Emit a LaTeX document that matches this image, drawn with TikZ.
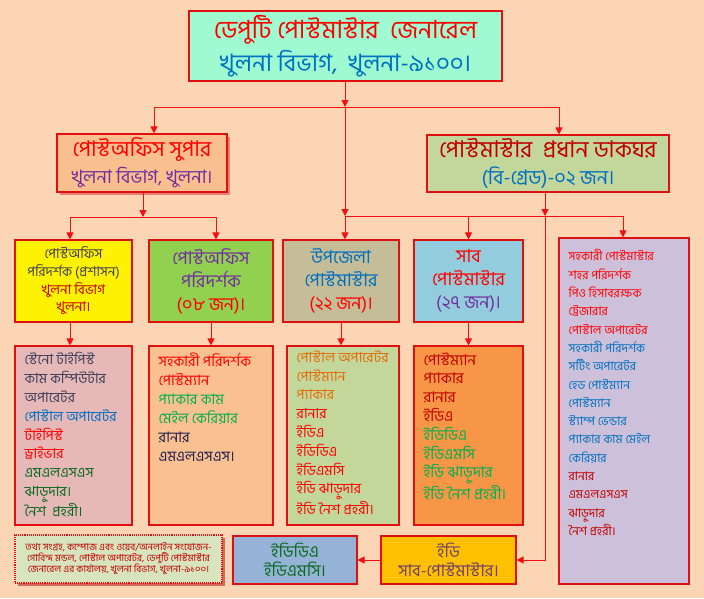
\documentclass[tikz,border=0pt]{standalone}
\usepackage{fontspec}
\newfontfamily\bn[Script=Bengali]{Hind Siliguri}
\usetikzlibrary{arrows.meta,shadows}

\definecolor{bgpeach}{HTML}{FCD5B5}
\definecolor{boxred}{HTML}{E01010}
\definecolor{linkred}{HTML}{F01010}
\definecolor{topfill}{HTML}{9FFAD2}
\definecolor{superfill}{HTML}{FABF8F}
\definecolor{pmfill}{HTML}{C3D69B}
\definecolor{inspfill}{HTML}{92D050}
\definecolor{upzfill}{HTML}{C4BD97}
\definecolor{subfill}{HTML}{93CDDD}
\definecolor{stafffill}{HTML}{CCC0DA}
\definecolor{pinkfill}{HTML}{E6B9B8}
\definecolor{orfill}{HTML}{FAC090}
\definecolor{upzlfill}{HTML}{C4D79B}
\definecolor{sublfill}{HTML}{F79646}
\definecolor{srcfill}{HTML}{D7E4BD}
\definecolor{eddafill}{HTML}{95B3D7}
\definecolor{edsubfill}{HTML}{FFC000}
\definecolor{tred}{HTML}{FF0000}
\definecolor{tdred}{HTML}{C00000}
\definecolor{tblue}{HTML}{0070C0}
\definecolor{tpurple}{HTML}{7030A0}
\definecolor{tgreen}{HTML}{00B050}
\definecolor{tdgreen}{HTML}{0B6A1E}
\definecolor{tgray}{HTML}{3F3F5A}
\definecolor{tnavy}{HTML}{1F1F50}
\definecolor{tbrown}{HTML}{E46C0A}
\definecolor{tmauve}{HTML}{6F3F70}

\tikzset{
  box/.style={draw=boxred, line width=1.1pt, inner sep=0pt, align=center},
  link/.style={draw=linkred, line width=1pt, -{Triangle[length=7pt,width=7pt]}},
  plain/.style={draw=linkred, line width=1pt},
  listtxt/.style={anchor=north west, align=left, inner sep=0pt,
    font=\bn\fontsize{14}{18.8}\selectfont},
}

\begin{document}
\begin{tikzpicture}[x=1pt,y=-1pt]
  \fill[bgpeach] (0,0) rectangle (704,598);
  \useasboundingbox (0,0) rectangle (704,598);

  % top office
  \node[box, fill=topfill, minimum width=313pt, minimum height=70pt,
    font=\bn\fontsize{25}{33}\selectfont] (dpg) at (345.5,46)
    {\textcolor{tred}{ডেপুটি পোস্টমাস্টার\ \ জেনারেল}\\
     \textcolor{tblue}{\fontsize{24}{33}\selectfont খুলনা বিভাগ,\ \ খুলনা-৯১০০।}};

  % second level
  \node[box, fill=superfill, minimum width=170pt, minimum height=58pt,
    drop shadow={shadow xshift=2.5pt, shadow yshift=-2.5pt, fill=tdred!80},
    font=\bn\fontsize{21.5}{27}\selectfont] (super) at (142,163)
    {\textcolor{tred}{পোস্টঅফিস সুপার}\\
     \textcolor{tpurple}{\fontsize{18.5}{27}\selectfont খুলনা বিভাগ, খুলনা।}};
  \node[box, fill=pmfill, minimum width=242pt, minimum height=57pt,
    font=\bn\fontsize{23}{27}\selectfont] (pmho) at (548,163.5)
    {\textcolor{tdred}{পোস্টমাস্টার\ \ প্রধান ডাকঘর}\\
     \textcolor{tblue}{\fontsize{20}{27}\selectfont (বি-গ্রেড)-০২ জন।}};

  % third level
  \node[box, fill=yellow, minimum width=117pt, minimum height=82pt,
    font=\bn\fontsize{13.5}{17.7}\selectfont] (padm) at (73.5,281)
    {\textcolor{tgray}{পোস্টঅফিস}\\ \textcolor{tgray}{পরিদর্শক (প্রশাসন)}\\
     \textcolor{tdred}{খুলনা বিভাগ}\\ \textcolor{tdred}{খুলনা।}};
  \node[box, fill=inspfill, minimum width=124pt, minimum height=82pt,
    font=\bn\fontsize{18}{23}\selectfont] (insp) at (211,281)
    {\textcolor{tpurple}{পোস্টঅফিস}\\ \textcolor{tpurple}{পরিদর্শক}\\
     \textcolor{tred}{(০৮ জন)।}};
  \node[box, fill=upzfill, minimum width=116pt, minimum height=82pt,
    font=\bn\fontsize{18}{23}\selectfont] (upz) at (341,281)
    {\textcolor{tblue}{উপজেলা}\\ \textcolor{tblue}{পোস্টমাস্টার}\\
     \textcolor{tred}{(২২ জন)।}};
  \node[box, fill=subfill, minimum width=109pt, minimum height=82pt,
    font=\bn\fontsize{18}{23}\selectfont] (subpm) at (468.5,281)
    {\textcolor{tred}{সাব}\\ \textcolor{tred}{পোস্টমাস্টার}\\
     \textcolor{tpurple}{(২৭ জন)।}};
  \node[box, fill=stafffill, minimum width=130pt, minimum height=346pt] (staff) at (624,411) {};
  \node[listtxt, font=\bn\fontsize{12}{18.3}\selectfont] at ([shift={(10,12)}]staff.north west)
    {\textcolor{tred}{সহকারী পোস্টমাস্টার}\\ \textcolor{tred}{শহর পরিদর্শক}\\
     \textcolor{tred}{পিও হিসাবরক্ষক}\\ \textcolor{tred}{ট্রেজারার}\\
     \textcolor{tred}{পোস্টাল অপারেটর}\\ \textcolor{tblue}{সহকারী পরিদর্শক}\\
     \textcolor{tblue}{সর্টিং অপারেটর}\\ \textcolor{tblue}{হেড পোস্টম্যান}\\
     \textcolor{tblue}{পোস্টম্যান}\\ \textcolor{tblue}{স্ট্যাম্প ভেন্ডার}\\
     \textcolor{tblue}{প্যাকার কাম মেইল}\\ \textcolor{tblue}{কেরিয়ার}\\
     \textcolor{tdred}{রানার}\\ \textcolor{tdred}{এমএলএসএস}\\
     \textcolor{tdred}{ঝাড়ুদার}\\ \textcolor{tdred}{নৈশ প্রহরী।}};

  % staff lists
  \node[box, fill=pinkfill, minimum width=117pt, minimum height=179pt] (pink) at (73.5,435.5) {};
  \node[listtxt] at ([shift={(10,7)}]pink.north west)
    {\textcolor{tgray}{স্টেনো টাইপিস্ট}\\ \textcolor{tgray}{কাম কম্পিউটার}\\
     \textcolor{tgray}{অপারেটর}\\ \textcolor{tblue}{পোস্টাল অপারেটর}\\
     \textcolor{tred}{টাইপিস্ট}\\ \textcolor{tred}{ড্রাইভার}\\
     \textcolor{tdgreen}{এমএলএসএস}\\ \textcolor{tdgreen}{ঝাড়ুদার।}\\
     \textcolor{tdgreen}{নৈশ\ \ প্রহরী।}};
  \node[box, fill=orfill, minimum width=124pt, minimum height=179pt] (orl) at (211,435.5) {};
  \node[listtxt, font=\bn\fontsize{14.5}{19}\selectfont] at ([shift={(10,7)}]orl.north west)
    {\textcolor{tred}{সহকারী পরিদর্শক}\\ \textcolor{tred}{পোস্টম্যান}\\
     \textcolor{tgreen}{প্যাকার কাম}\\ \textcolor{tgreen}{মেইল কেরিয়ার}\\
     \textcolor{tnavy}{রানার}\\ \textcolor{tnavy}{এমএলএসএস।}};
  \node[box, fill=upzlfill, minimum width=112pt, minimum height=179pt] (upzl) at (343,435.5) {};
  \node[listtxt] at ([shift={(10,5)}]upzl.north west)
    {\textcolor{tbrown}{পোস্টাল অপারেটর}\\ \textcolor{tbrown}{পোস্টম্যান}\\
     \textcolor{tbrown}{প্যাকার}\\ \textcolor{tred}{রানার}\\
     \textcolor{tred}{ইডিএ}\\ \textcolor{tred}{ইডিডিএ}\\
     \textcolor{tred}{ইডিএমসি}\\ \textcolor{tred}{ইডি ঝাড়ুদার}\\
     \textcolor{tred}{ইডি নৈশ প্রহরী।}};
  \node[box, fill=sublfill, minimum width=109pt, minimum height=179pt] (subl) at (468.5,435.5) {};
  \node[listtxt, font=\bn\fontsize{15}{18.8}\selectfont] at ([shift={(10,7)}]subl.north west)
    {\textcolor{tdred}{পোস্টম্যান}\\ \textcolor{tdred}{প্যাকার}\\
     \textcolor{tdred}{রানার}\\ \textcolor{tdred}{ইডিএ}\\
     \textcolor{tgreen}{ইডিডিএ}\\ \textcolor{tgreen}{ইডিএমসি}\\
     \textcolor{tgreen}{ইডি ঝাড়ুদার}\\ \textcolor{tgreen}{ইডি নৈশ প্রহরী।}};

  % bottom row
  \node[box, fill=srcfill, densely dotted, minimum width=207pt, minimum height=48pt,
    drop shadow={shadow xshift=2.5pt, shadow yshift=-2.5pt, fill=tdred!90!black},
    font=\bn\fontsize{9.6}{10.5}\selectfont, text=tdred] (src) at (118.5,559)
    {তথ্য সংগ্রহ, কম্পোজ এবং ওয়েব/অনলাইন সংযোজন-\\
     গোবিন্দ মন্ডল, পোস্টাল অপারেটর, ডেপুটি পোস্টমাস্টার\\
     জেনারেল এর কার্যালয়, খুলনা বিভাগ, খুলনা-৯১০০।};
  \node[box, fill=eddafill, minimum width=124pt, minimum height=48pt,
    font=\bn\fontsize{16.5}{18.5}\selectfont, text=tdgreen] (edda) at (295,560)
    {ইডিডিএ\\ ইডিএমসি।};
  \node[box, fill=edsubfill, minimum width=135pt, minimum height=48pt,
    font=\bn\fontsize{16.5}{18.5}\selectfont, text=tmauve] (edsub) at (448.5,560)
    {ইডি\\ সাব-পোস্টমাস্টার।};

  % connectors from the top
  \coordinate (j1) at (345,107);
  \coordinate (jl) at (154,107);
  \coordinate (jr) at (559,107);
  \draw[link] (dpg.south -| j1) -- (j1);
  \draw[plain] (jl) -- (jr);
  \draw[link] (jl) -- (jl |- super.north);
  \draw[link] (jr) -- (jr |- pmho.north);

  % office super branch
  \coordinate (j6) at (143,217);
  \coordinate (j6l) at (70,217);
  \coordinate (j6r) at (216,217);
  \draw[link] (super.south -| j6) -- (j6);
  \draw[plain] (j6l) -- (j6r);
  \draw[link] (j6l) -- (j6l |- padm.north);
  \draw[link] (j6r) -- (j6r |- insp.north);

  % postmaster branch
  \coordinate (j2) at (345,216);
  \coordinate (j3) at (623,216);
  \coordinate (j4) at (545,216);
  \draw[link] (j1) -- (j2);
  \draw[link] (j2) -- (j2 |- upz.north);
  \draw[plain] (j2) -- (j3);
  \draw[link] (j3) -- (j3 |- staff.north);
  \draw[link] (j2 -| subpm.north) -- (subpm.north);
  \draw[link] (pmho.south -| j4) -- (j4);
  \draw[link] (j4) |- (edsub.east);
  \draw[link] (edsub.west) -- (edda.east);

  % down to the lists
  \draw[link] (padm.south -| j6l) -- (pink.north -| j6l);
  \draw[link] (insp.south) -- (orl.north);
  \draw[link] (upz.south) -- (upz.south |- upzl.north);
  \draw[link] (subpm.south) -- (subl.north);
\end{tikzpicture}
\end{document}
